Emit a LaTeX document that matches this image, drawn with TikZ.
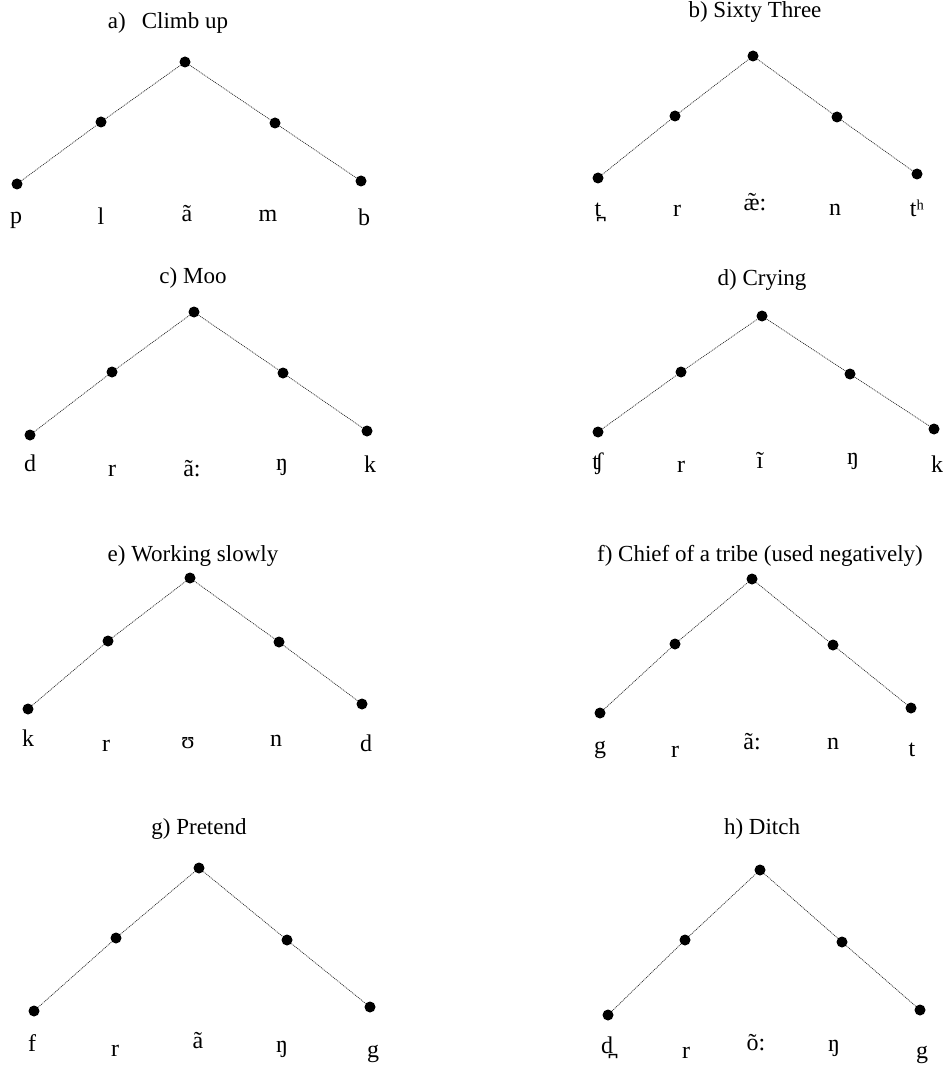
\documentclass[tikz,border=0pt]{standalone}
\usepackage{fontspec}
\setmainfont{Liberation Serif}
\tikzset{
  pt/.style={circle,fill=black,inner sep=0pt,minimum size=11pt},
  link/.style={line width=0.7pt,black!85,dash pattern=on 1pt off 0.9pt},
  ttl/.style={font=\fontsize{23}{27}\selectfont,anchor=center,inner sep=0pt},
  seg/.style={font=\fontsize{24}{28}\selectfont,anchor=mid,inner sep=0pt},
}
% five pitch points joined into a rise-fall contour
\newcommand\pitchtree[6]{%
  \node[pt] (#1-1) at (#2) {};
  \node[pt] (#1-2) at (#3) {};
  \node[pt] (#1-3) at (#4) {};
  \node[pt] (#1-4) at (#5) {};
  \node[pt] (#1-5) at (#6) {};
  \draw[link] (#1-1) -- (#1-2) -- (#1-3) -- (#1-4) -- (#1-5);
}
\begin{document}
\begin{tikzpicture}[x=1pt,y=-1pt]
\useasboundingbox (0,0) rectangle (943,1067);

% a) Climb up
\node[ttl] (ta) at (168,23) {a)\hspace{0.7em}Climb up};
\pitchtree{a}{17,184}{101,122}{185,62}{275,123}{361,181}
\node[seg] (a-s1) at (16,221) {p};
\node[seg] (a-s2) at (101,222) {l};
\node[seg] (a-s3) at (187,219) {ã};
\node[seg] (a-s4) at (268,219) {m};
\node[seg] (a-s5) at (364,223) {b};

% b) Sixty Three
\node[ttl] (tb) at (755,12) {b) Sixty Three};
\pitchtree{b}{598,178}{675,116}{753,56}{837,117}{917,174}
\node[seg] (b-s1) at (598,214) {t̪};
\node[seg] (b-s2) at (677,214) {r};
\node[seg] (b-s3) at (755,208) {æ̃:};
\node[seg] (b-s4) at (835,213) {n};
\node[seg] (b-s5) at (917,214) {tʰ};

% c) Moo
\node[ttl] (tc) at (193,278) {c) Moo};
\pitchtree{c}{30,435}{112,372}{194,312}{283,373}{367,431}
\node[seg] (c-s1) at (30,469) {d};
\node[seg] (c-s2) at (112,474) {r};
\node[seg] (c-s3) at (192,474) {ã:};
\node[seg] (c-s4) at (282,468) {ŋ};
\node[seg] (c-s5) at (370,470) {k};

% d) Crying
\node[ttl] (td) at (762,280) {d) Crying};
\pitchtree{d}{598,432}{681,372}{762,316}{850,374}{934,429}
\node[seg] (d-s1) at (598,467) {ʧ};
\node[seg] (d-s2) at (681,470) {r};
\node[seg] (d-s3) at (760,466) {ĩ};
\node[seg] (d-s4) at (853,462) {ŋ};
\node[seg] (d-s5) at (937,470) {k};

% e) Working slowly
\node[ttl] (te) at (193,556) {e) Working slowly};
\pitchtree{e}{28,709}{108,641}{190,578}{279,642}{362,704}
\node[seg] (e-s1) at (28,744) {k};
\node[seg] (e-s2) at (106,749) {r};
\node[seg] (e-s3) at (188,746) {ʊ};
\node[seg] (e-s4) at (276,744) {n};
\node[seg] (e-s5) at (366,749) {d};

% f) Chief of a tribe (used negatively)
\node[ttl] (tf) at (760,556) {f) Chief of a tribe (used negatively)};
\pitchtree{f}{600,713}{675,644}{752,579}{833,645}{911,708}
\node[seg] (f-s1) at (600,751) {g};
\node[seg] (f-s2) at (675,755) {r};
\node[seg] (f-s3) at (752,747) {ã:};
\node[seg] (f-s4) at (833,747) {n};
\node[seg] (f-s5) at (912,754) {t};

% g) Pretend
\node[ttl] (tg) at (199,829) {g) Pretend};
\pitchtree{g}{34,1011}{116,938}{199,868}{287,940}{370,1007}
\node[seg] (g-s1) at (32,1049) {f};
\node[seg] (g-s2) at (115,1054) {r};
\node[seg] (g-s3) at (198,1046) {ã};
\node[seg] (g-s4) at (282,1050) {ŋ};
\node[seg] (g-s5) at (373,1055) {g};

% h) Ditch
\node[ttl] (th) at (762,829) {h) Ditch};
\pitchtree{h}{608,1015}{685,940}{760,870}{842,942}{920,1010}
\node[seg] (h-s1) at (607,1051) {d̪};
\node[seg] (h-s2) at (686,1056) {r};
\node[seg] (h-s3) at (756,1048) {õ:};
\node[seg] (h-s4) at (834,1049) {ŋ};
\node[seg] (h-s5) at (922,1056) {g};
\end{tikzpicture}
\end{document}
